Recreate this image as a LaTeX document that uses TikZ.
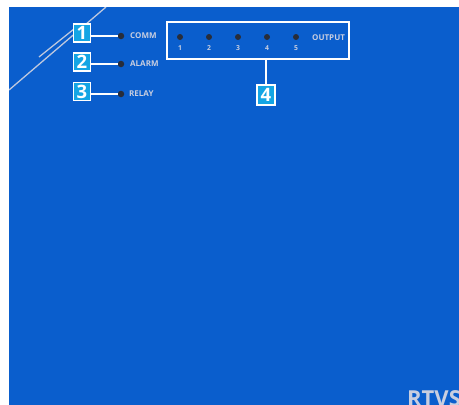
\documentclass[tikz,border=0pt]{standalone}
\usepackage{fontspec}
\setmainfont{Open Sans}
\definecolor{panel}{RGB}{10,94,205}
\definecolor{lbltxt}{RGB}{200,206,224}
\definecolor{callfill}{RGB}{20,165,228}
\definecolor{leddark}{RGB}{40,45,58}
\definecolor{scratch}{RGB}{190,200,222}
\tikzset{
  led/.style={circle,fill=leddark,inner sep=0pt,minimum size=6.5pt},
  lbl/.style={text=lbltxt,font=\bfseries\fontsize{8}{9}\selectfont,inner sep=0pt,anchor=west},
  num/.style={text=lbltxt,font=\bfseries\fontsize{6.8}{7}\selectfont,inner sep=0pt},
  callout/.style={fill=callfill,draw=white,line width=1.8pt,minimum width=17pt,minimum height=18pt,inner sep=0pt,text=white,font=\bfseries\fontsize{18.5}{19}\selectfont},
  conn/.style={draw=white,line width=1.6pt},
  frame/.style={draw=white,line width=1.8pt}
}
\begin{document}
\begin{tikzpicture}[x=1pt,y=-1pt]
\useasboundingbox (0,0) rectangle (459,405);
\fill[white] (0,0) rectangle (459,405);
\fill[panel] (9,7) rectangle (459,405);
\begin{scope}
\clip (9,7) rectangle (459,405);
\draw[scratch,line width=1.3pt] (9,90) -- (106,7);
\draw[scratch,line width=1.3pt] (39,57) -- (74,29);
\node[text=lbltxt,font=\bfseries\fontsize{22}{24}\selectfont,inner sep=0pt,anchor=base west] (brand) at (407,406) {RTVS};
\end{scope}
% left LEDs
\node[led] (l1) at (121,36) {};
\node[led] (l2) at (121,64) {};
\node[led] (l3) at (121,94) {};
\node[lbl] (t1) at (130,36) {COMM};
\node[lbl] (t2) at (130,64) {ALARM};
\node[lbl] (t3) at (129,94) {RELAY};
% output frame
\node[frame,minimum width=182pt,minimum height=37pt,inner sep=0pt] (outbox) at (258,40.5) {};
\foreach \i/\x in {1/180,2/209,3/238,4/267,5/296}{
  \node[led,minimum size=6pt] (o\i) at (\x,37) {};
  \node[num] (n\i) at (\x,48) {\i};
}
\node[lbl] (tout) at (312,38) {OUTPUT};
% callouts
\node[callout] (c1) at (82,33) {1};
\node[callout] (c2) at (82,62) {2};
\node[callout] (c3) at (82,91.5) {3};
\node[callout,minimum width=18pt,minimum height=20pt] (c4) at (266,95) {4};
\draw[conn] (l1.west) -- (l1.west -| c1.east);
\draw[conn] (l2.west) -- (l2.west -| c2.east);
\draw[conn] (l3.west) -- (l3.west -| c3.east);
\draw[conn] (outbox.south -| c4.north) -- (c4.north);
\end{tikzpicture}
\end{document}
